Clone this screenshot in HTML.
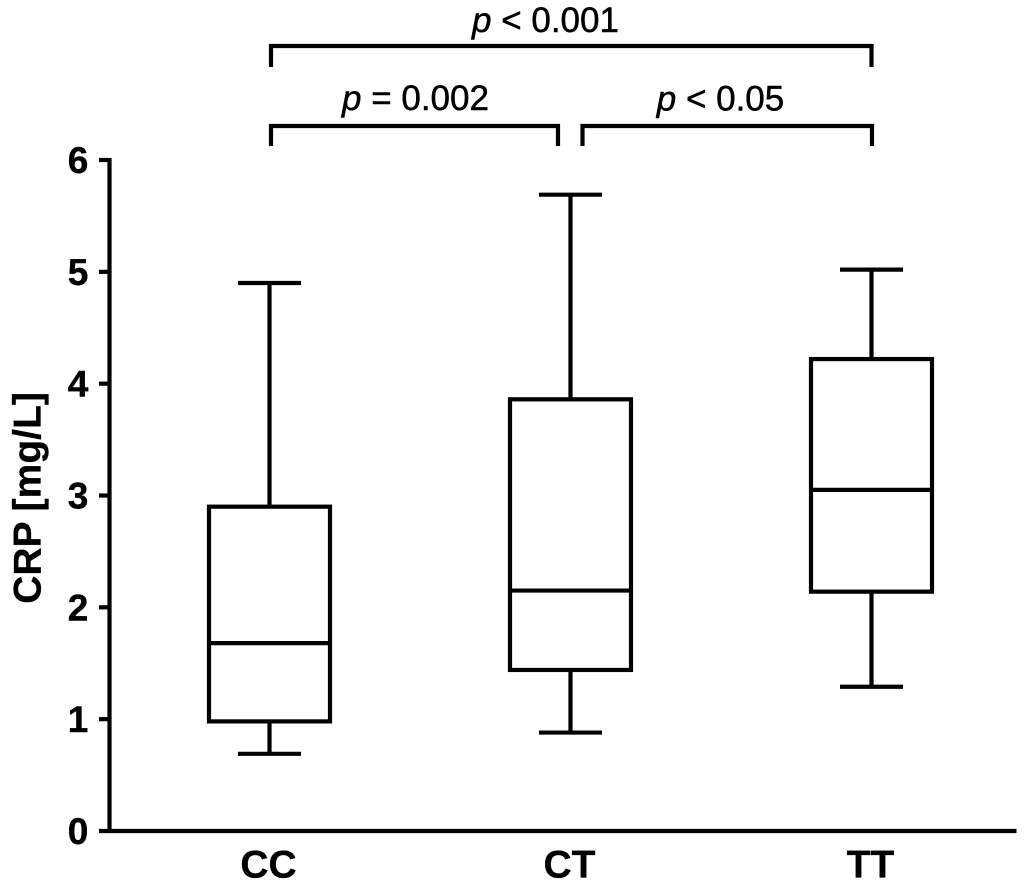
<!DOCTYPE html>
<html lang="en">
<head>
<meta charset="utf-8">
<title>CRP by genotype</title>
<style>
html,body{margin:0;padding:0;background:#fff;}
svg{display:block;}
text{font-family:"Liberation Sans",Arial,sans-serif;fill:#000;}
.tick{font-size:37px;font-weight:bold;stroke:#000;stroke-width:.4px;}
.cat{font-size:39px;font-weight:bold;stroke:#000;stroke-width:.3px;}
.pval{font-size:35px;stroke:#000;stroke-width:.5px;}
</style>
</head>
<body>
<svg id="chart" width="1024" height="886" viewBox="0 0 1024 886" xmlns="http://www.w3.org/2000/svg"></svg>
<script>
var categories = ['CC', 'CT', 'TT'];
var lowValues = [0.69, 0.88, 1.29];
var q1Values = [0.98, 1.44, 2.14];
var medianValues = [1.68, 2.15, 3.05];
var q3Values = [2.90, 3.86, 4.22];
var highValues = [4.90, 5.69, 5.02];
var yTicks = [0, 1, 2, 3, 4, 5, 6];

var svg = document.getElementById('chart');
var NS = 'http://www.w3.org/2000/svg';
var Y0 = 831, Y6 = 160, SW = 4.2;
function yScale(v) { return Y0 + (Y6 - Y0) * v / 6; }
function xScale(i) { return 269.5 + i * 301; }

function line(x1, y1, x2, y2, name) {
  var el = document.createElementNS(NS, 'line');
  el.setAttribute('x1', x1);
  el.setAttribute('y1', y1);
  el.setAttribute('x2', x2);
  el.setAttribute('y2', y2);
  el.setAttribute('stroke', '#000');
  el.setAttribute('stroke-width', SW);
  
  
  svg.appendChild(el);
  return el;
}
function text(x, y, str, cls, name, anchor) {
  var el = document.createElementNS(NS, 'text');
  el.setAttribute('x', x);
  el.setAttribute('y', y);
  el.setAttribute('class', cls);
  el.setAttribute('text-anchor', anchor || 'middle');
  
  
  el.textContent = str;
  svg.appendChild(el);
  return el;
}
function pLabel(x, y, rest, name) {
  var el = document.createElementNS(NS, 'text');
  el.setAttribute('x', x);
  el.setAttribute('y', y);
  el.setAttribute('class', 'pval');
  el.setAttribute('text-anchor', 'middle');
  
  
  var sp = document.createElementNS(NS, 'tspan');
  sp.setAttribute('font-style', 'italic');
  sp.textContent = 'p';
  el.appendChild(sp);
  el.appendChild(document.createTextNode(rest));
  svg.appendChild(el);
}
function bracket(x1, x2, y, drop, name) {
  var el = document.createElementNS(NS, 'path');
  el.setAttribute('d', 'M' + x1 + ' ' + (y + drop) + 'V' + y + 'H' + x2 + 'V' + (y + drop));
  el.setAttribute('fill', 'none');
  el.setAttribute('stroke', '#000');
  el.setAttribute('stroke-width', SW);
  
  
  svg.appendChild(el);
}

// Axes
line(109.5, Y6 - 2, 109.5, Y0 + 2, 'y-axis-line');
line(99, Y0, 1016.5, Y0, 'x-axis-line');
yTicks.forEach(function (t) {
  var y = yScale(t);
  if (t !== 0) {
    line(99, y, 109.5, y, 'y-tick-' + t);
  }
  text(78, y + 13, String(t), 'tick', 'y-tick-label-' + t);
});

// Y title
var title = text(0, 0, 'CRP [mg/L]', 'cat', 'y-axis-title');
title.setAttribute('transform', 'translate(40.5 498) rotate(-90)');

// Boxes
categories.forEach(function (c, i) {
  var x = xScale(i);
  var half = 60.5, cap = 31.5;
  var key = c.toLowerCase();
  line(x, yScale(highValues[i]), x, yScale(q3Values[i]), 'whisker-upper-' + key);
  line(x, yScale(lowValues[i]), x, yScale(q1Values[i]), 'whisker-lower-' + key);
  line(x - cap, yScale(highValues[i]), x + cap, yScale(highValues[i]), 'cap-upper-' + key);
  line(x - cap, yScale(lowValues[i]), x + cap, yScale(lowValues[i]), 'cap-lower-' + key);
  var r = document.createElementNS(NS, 'rect');
  r.setAttribute('x', x - half);
  r.setAttribute('y', yScale(q3Values[i]));
  r.setAttribute('width', half * 2);
  r.setAttribute('height', yScale(q1Values[i]) - yScale(q3Values[i]));
  r.setAttribute('fill', '#fff');
  r.setAttribute('stroke', '#000');
  r.setAttribute('stroke-width', SW);
  
  
  svg.appendChild(r);
  line(x - half, yScale(medianValues[i]), x + half, yScale(medianValues[i]), 'median-' + key);
  text(x - 1, 877.5, c, 'cat', 'x-label-' + key);
});

// Significance brackets
bracket(271, 871.5, 46, 21, 'bracket-cc-tt');
bracket(271, 558, 126, 20, 'bracket-cc-ct');
bracket(582.5, 872, 126, 20, 'bracket-ct-tt');
pLabel(545.5, 32, ' < 0.001', 'p-value-cc-tt');
pLabel(415.5, 110, ' = 0.002', 'p-value-cc-ct');
pLabel(720.5, 110.5, ' < 0.05', 'p-value-ct-tt');
</script>
</body>
</html>
